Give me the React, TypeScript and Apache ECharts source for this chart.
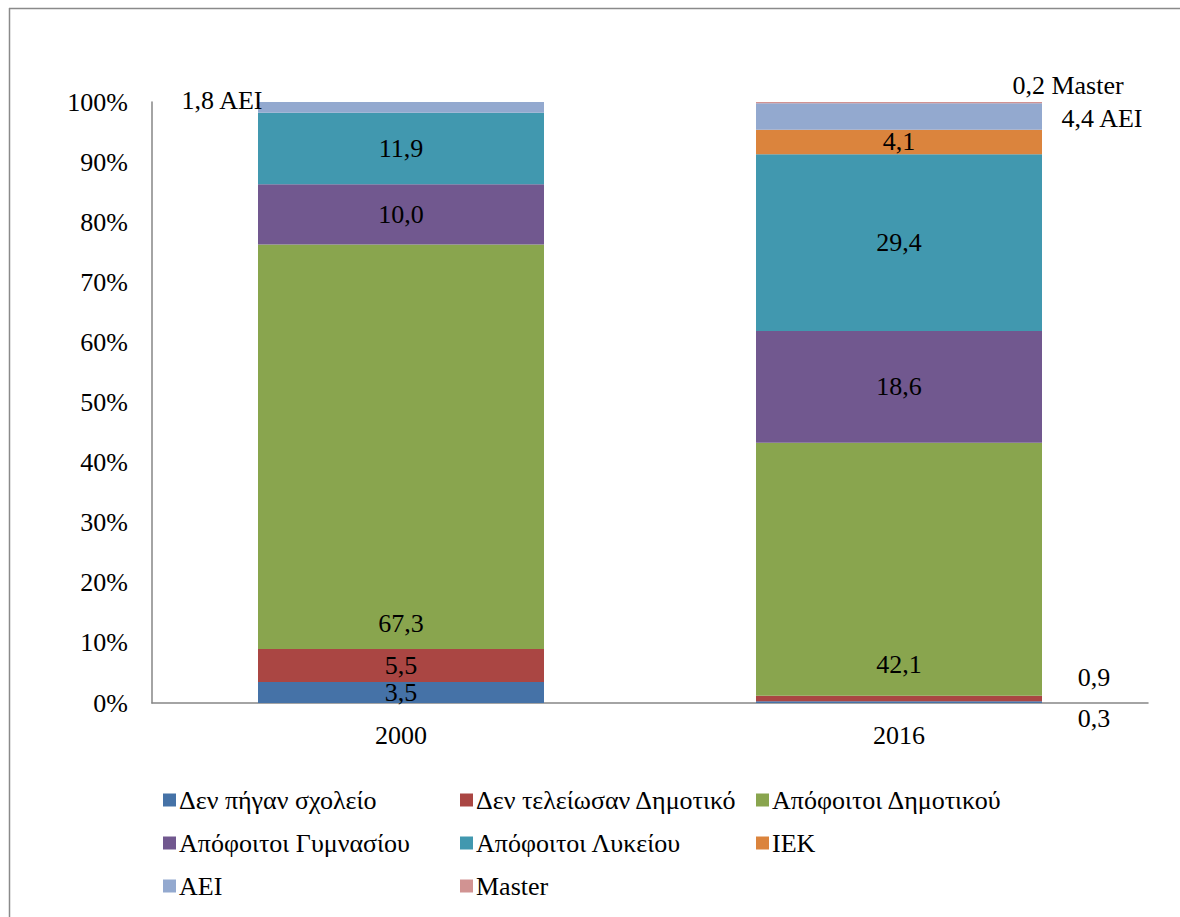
import React, { useEffect, useRef } from 'react';
import * as echarts from 'echarts';

const categories = ['2000', '2016'];
const seriesNames = [
  'Δεν πήγαν σχολείο',
  'Δεν τελείωσαν Δημοτικό',
  'Απόφοιτοι Δημοτικού',
  'Απόφοιτοι Γυμνασίου',
  'Απόφοιτοι Λυκείου',
  'ΙΕΚ',
  'ΑΕΙ',
  'Master',
];
const notSchool = [3.5, 0.3];
const notFinishedPrimary = [5.5, 0.9];
const primaryGrad = [67.3, 42.1];
const gymnasiumGrad = [10.0, 18.6];
const lyceumGrad = [11.9, 29.4];
const iek = [0, 4.1];
const aei = [1.8, 4.4];
const master = [0, 0.2];
const seriesValues = [notSchool, notFinishedPrimary, primaryGrad, gymnasiumGrad, lyceumGrad, iek, aei, master];
const colors = ['#4572A7', '#AA4643', '#89A54E', '#71588F', '#4198AF', '#DB843D', '#93A9CF', '#D19392'];

// label placement tweaks (seriesIndex-dataIndex)
const labelTweaks: Record<string, { offset: number[]; suffix?: string }> = {
  '0-1': { offset: [195, 16] },
  '1-1': { offset: [195, -21] },
  '2-0': { offset: [0, 177] },
  '2-1': { offset: [0, 95] },
  '6-0': { offset: [-179, -7], suffix: ' ΑΕΙ' },
  '6-1': { offset: [203, 2], suffix: ' ΑΕΙ' },
  '7-1': { offset: [169, -17], suffix: ' Master' },
};

const FONT = 'Liberation Serif';
const FS = 26;

const fmt = (v: number) => v.toFixed(1).replace('.', ',');

export default function App() {
  const ref = useRef<HTMLDivElement>(null);
  useEffect(() => {
    if (!ref.current) return;
    const chart = echarts.init(ref.current, undefined, { renderer: 'svg' });
    const series = seriesNames.map((name, si) => ({
      name,
      type: 'bar',
      stack: 'total',
      barWidth: 286,
      itemStyle: { color: colors[si] },
      data: seriesValues[si].map((v, di) => {
        const tw = labelTweaks[`${si}-${di}`];
        return {
          value: v,
          label: {
            show: v > 0,
            position: 'inside',
            offset: tw ? tw.offset : [0, 0],
            formatter: () => fmt(v) + (tw && tw.suffix ? tw.suffix : ''),
            color: '#000',
            fontFamily: FONT,
            fontSize: FS,
          },
        };
      }),
    }));
    const legendCommon = {
      orient: 'vertical',
      icon: 'rect',
      itemWidth: 13,
      itemHeight: 13,
      itemGap: 17,
      padding: 0,
      top: 787,
      textStyle: { color: '#000', fontFamily: FONT, fontSize: FS, lineHeight: 26, padding: [0, 0, 0, -2] },
    };
    chart.setOption({
      animation: false,
      textStyle: { fontFamily: FONT },
      grid: { left: 152, right: 32, top: 102, bottom: 214, containLabel: false },
      xAxis: {
        type: 'category',
        data: categories,
        axisLine: { lineStyle: { color: '#868686', width: 1.5 } },
        axisTick: { show: false },
        axisLabel: { color: '#000', fontFamily: FONT, fontSize: FS, margin: 19 },
      },
      yAxis: {
        type: 'value',
        min: 0,
        max: 100,
        interval: 10,
        axisLine: { show: true, lineStyle: { color: '#868686', width: 1.5 } },
        axisTick: { show: false },
        splitLine: { show: false },
        axisLabel: { color: '#000', fontFamily: FONT, fontSize: FS, margin: 24, formatter: '{value}%' },
      },
      legend: [
        { ...legendCommon, left: 163, data: [seriesNames[0], seriesNames[3], seriesNames[6]] },
        { ...legendCommon, left: 460, data: [seriesNames[1], seriesNames[4], seriesNames[7]] },
        { ...legendCommon, left: 756, data: [seriesNames[2], seriesNames[5]] },
      ],
      graphic: [
        { type: 'line', shape: { x1: 9, y1: 8.5, x2: 1180, y2: 8.5 }, style: { stroke: '#8a8a8a', lineWidth: 1.5 } },
        { type: 'line', shape: { x1: 9.5, y1: 8, x2: 9.5, y2: 917 }, style: { stroke: '#8a8a8a', lineWidth: 1.5 } },
      ],
      series,
    });
    return () => chart.dispose();
  }, []);
  return (
    <div
      ref={ref}
      style={{ position: 'fixed', left: 0, top: 0, width: 1180, height: 917, background: '#fff' }}
    />
  );
}
